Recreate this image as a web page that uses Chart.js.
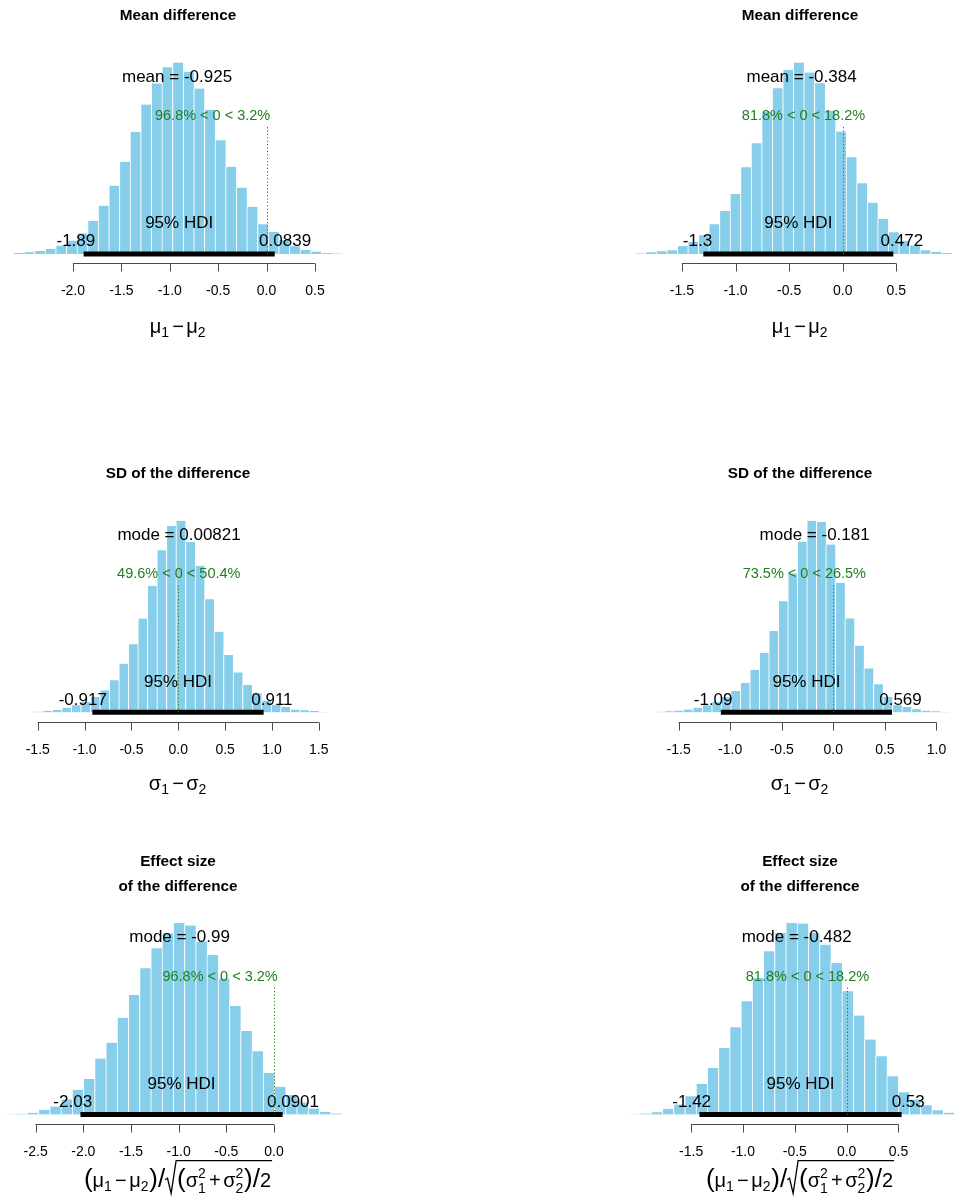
<!DOCTYPE html>
<html>
<head>
<meta charset="utf-8">
<title>Posterior distributions of the differences</title>
<script src="https://cdn.jsdelivr.net/npm/chart.js@4.4.0/dist/chart.umd.min.js"></script>
<style>
  html, body { margin: 0; padding: 0; background: #ffffff; }
  body { width: 954px; height: 1199px; overflow: hidden; position: relative; }
  canvas { position: absolute; display: block; }
</style>
</head>
<body>
<canvas id="p0"></canvas>
<canvas id="p1"></canvas>
<canvas id="p2"></canvas>
<canvas id="p3"></canvas>
<canvas id="p4"></canvas>
<canvas id="p5"></canvas>
<script>
// ---------- posterior histogram densities (one value per bin) ----------
const densMeanL = [0.005,0.008,0.014,0.023,0.039,0.061,0.094,0.150,0.220,0.311,0.420,0.556,0.680,0.776,0.850,0.871,0.829,0.753,0.655,0.518,0.397,0.302,0.215,0.136,0.100,0.064,0.036,0.018,0.011,0.005,0.002];
const densMeanR = [0.003,0.009,0.014,0.020,0.041,0.061,0.096,0.152,0.220,0.307,0.444,0.567,0.729,0.849,0.943,0.980,0.929,0.874,0.734,0.627,0.495,0.362,0.263,0.179,0.111,0.068,0.044,0.020,0.012,0.005];
const densSdL   = [0.004,0.008,0.014,0.026,0.042,0.061,0.091,0.130,0.190,0.289,0.405,0.557,0.751,0.963,1.107,1.137,1.012,0.870,0.672,0.478,0.340,0.237,0.162,0.113,0.069,0.045,0.032,0.016,0.012,0.008,0.002];
const densSdR   = [0.004,0.007,0.011,0.018,0.031,0.046,0.068,0.099,0.141,0.193,0.281,0.391,0.537,0.734,0.917,1.126,1.264,1.256,1.108,0.855,0.620,0.440,0.290,0.185,0.103,0.046,0.035,0.020,0.011,0.007,0.002];
const densEffL  = [0.001,0.003,0.007,0.019,0.032,0.060,0.098,0.141,0.222,0.284,0.383,0.473,0.579,0.658,0.718,0.758,0.748,0.685,0.632,0.539,0.430,0.331,0.251,0.164,0.110,0.077,0.048,0.024,0.011,0.004];
const densEffR  = [0.001,0.004,0.010,0.024,0.042,0.077,0.129,0.196,0.280,0.367,0.476,0.574,0.686,0.763,0.805,0.803,0.763,0.714,0.637,0.518,0.416,0.315,0.245,0.161,0.094,0.063,0.039,0.018,0.008,0.003];
const densities = [densMeanL, densMeanR, densSdL, densSdR, densEffL, densEffR];

// left edge of the first bin and bin width (HDI width / 18)
const binStart = [-2.617, -1.937, -1.549, -1.732, -2.824, -2.103];
const binWidth = [0.1097, 0.0984, 0.1016, 0.0922, 0.1178, 0.1083];

// summary statistics
const hdiLow       = [-1.89, -1.3, -0.917, -1.09, -2.03, -1.42];
const hdiHigh      = [0.0839, 0.472, 0.911, 0.569, 0.0901, 0.53];
const centralName  = ['mean', 'mean', 'mode', 'mode', 'mode', 'mode'];
const centralValue = [-0.925, -0.384, 0.00821, -0.181, -0.99, -0.482];
const compValue    = 0;
const pctBelow     = ['96.8', '81.8', '49.6', '73.5', '96.8', '81.8'];
const pctAbove     = ['3.2', '18.2', '50.4', '26.5', '3.2', '18.2'];

// titles and axis ticks
const titles = [
  ['Mean difference'], ['Mean difference'],
  ['SD of the difference'], ['SD of the difference'],
  ['Effect size', 'of the difference'], ['Effect size', 'of the difference']
];
const tickValues = [
  [-2.0, -1.5, -1.0, -0.5, 0.0, 0.5],
  [-1.5, -1.0, -0.5, 0.0, 0.5],
  [-1.5, -1.0, -0.5, 0.0, 0.5, 1.0, 1.5],
  [-1.5, -1.0, -0.5, 0.0, 0.5, 1.0],
  [-2.5, -2.0, -1.5, -1.0, -0.5, 0.0],
  [-1.5, -1.0, -0.5, 0.0, 0.5]
];
const tickLabels = [
  ['-2.0', '-1.5', '-1.0', '-0.5', '0.0', '0.5'],
  ['-1.5', '-1.0', '-0.5', '0.0', '0.5'],
  ['-1.5', '-1.0', '-0.5', '0.0', '0.5', '1.0', '1.5'],
  ['-1.5', '-1.0', '-0.5', '0.0', '0.5', '1.0'],
  ['-2.5', '-2.0', '-1.5', '-1.0', '-0.5', '0.0'],
  ['-1.5', '-1.0', '-0.5', '0.0', '0.5']
];

// x-axis labels as small math expressions
const labMu    = [{t:'μ'}, {sub:'1'}, {op:'−'}, {t:'μ'}, {sub:'2'}];
const labSigma = [{t:'σ'}, {sub:'1'}, {op:'−'}, {t:'σ'}, {sub:'2'}];
const labEff   = [
  {t:'(', big:true}, {t:'μ'}, {sub:'1'}, {op:'−'}, {t:'μ'}, {sub:'2'}, {t:')', big:true}, {t:'/', big:true},
  {sqrt:[{t:'(', big:true}, {t:'σ'}, {sub:'1', sup:'2'}, {op:'+'}, {t:'σ'}, {sub:'2', sup:'2'},
         {t:')', big:true}, {t:'/', big:true}, {t:'2'}]}
];
const xLabels = [labMu, labMu, labSigma, labSigma, labEff, labEff];

// ---------- layout ----------
const FONT = '"Liberation Sans", Arial, Helvetica, sans-serif';
const BAR_COLOR = '#87CEEB';
const GREEN = '#1f7f1f';
const rowTop = [0, 400, 800];
const rowHeight = [400, 400, 399];
const colLeft = [0, 477];
const colWidth = [477, 501];
const plotLeft = [0, 622];
const plotWidth = 356;
const plotTop = [54.9, 513.2, 915.4];
const plotBottom = [261.7, 720, 1122.2];
const tickLabelY = [290.7, 750.2, 1152.5];
const xlabBaseY = [333, 790, 1187.3];
const titleY = [[16], [474], [862, 887]];
const xLimits = [
  [-2.754, 0.924], [-2.059, 1.262],
  [-1.903, 1.897], [-2.049, 1.403],
  [-2.874, 0.860], [-2.167, 1.267]
];
const TXT = 17, GTXT = 14.5, TICK = 14, TITLE = 15.3, MATH = 20, BIGMATH = 26;
const STR_H = 15.1; // height unit used for the HDI text offsets

// ---------- tiny expression renderer ----------
function partWidth(ctx, p, size) {
  if (p.t !== undefined) {
    ctx.font = (p.big ? BIGMATH : size) + 'px ' + FONT;
    return ctx.measureText(p.t).width;
  }
  if (p.op !== undefined) {
    ctx.font = size + 'px ' + FONT;
    return ctx.measureText(p.op).width + size * 0.24;
  }
  if (p.sqrt) {
    return size * 0.6 + exprWidth(ctx, p.sqrt, size) + size * 0.05;
  }
  ctx.font = (size * 0.7) + 'px ' + FONT;
  const a = p.sub ? ctx.measureText(p.sub).width : 0;
  const b = p.sup ? ctx.measureText(p.sup).width : 0;
  return Math.max(a, b) + size * 0.04;
}
function exprWidth(ctx, parts, size) {
  return parts.reduce((w, p) => w + partWidth(ctx, p, size), 0);
}
function drawExpr(ctx, parts, x, y, size) {
  ctx.textAlign = 'left';
  ctx.textBaseline = 'alphabetic';
  for (const p of parts) {
    const w = partWidth(ctx, p, size);
    if (p.t !== undefined) {
      ctx.font = (p.big ? BIGMATH : size) + 'px ' + FONT;
      ctx.fillText(p.t, x, y);
    } else if (p.op !== undefined) {
      ctx.font = size + 'px ' + FONT;
      ctx.fillText(p.op, x + size * 0.12, y);
    } else if (p.sqrt) {
      const top = y - size * 1.33;
      ctx.save();
      ctx.lineWidth = 1.3;
      ctx.strokeStyle = '#000';
      ctx.beginPath();
      ctx.moveTo(x, y - size * 0.38);
      ctx.lineTo(x + size * 0.12, y - size * 0.45);
      ctx.lineTo(x + size * 0.3, y + size * 0.3);
      ctx.lineTo(x + size * 0.55, top);
      ctx.lineTo(x + w, top);
      ctx.stroke();
      ctx.restore();
      drawExpr(ctx, p.sqrt, x + size * 0.6, y, size);
    } else {
      ctx.font = (size * 0.7) + 'px ' + FONT;
      if (p.sub && p.sup) {
        ctx.fillText(p.sub, x, y + size * 0.28);
        ctx.fillText(p.sup, x, y - size * 0.45);
      } else if (p.sub) {
        ctx.fillText(p.sub, x, y + size * 0.2);
      } else if (p.sup) {
        ctx.fillText(p.sup, x, y - size * 0.45);
      }
    }
    x += w;
  }
}

// ---------- annotations drawn over each histogram ----------
function posteriorMarks(i) {
  const row = Math.floor(i / 2), col = i % 2;
  const oy = rowTop[row];
  return {
    id: 'posteriorMarks' + i,
    afterDatasetsDraw(chart) {
      const ctx = chart.ctx, xs = chart.scales.x, ys = chart.scales.y, area = chart.chartArea;
      const maxD = Math.max(...densities[i]);
      const y0 = ys.getPixelForValue(0);
      const cx = (area.left + area.right) / 2;
      ctx.save();

      // title
      ctx.fillStyle = '#000';
      ctx.font = 'bold ' + TITLE + 'px ' + FONT;
      ctx.textAlign = 'center';
      ctx.textBaseline = 'middle';
      titles[i].forEach((line, k) => ctx.fillText(line, cx, titleY[row][k] - oy));

      // central tendency
      ctx.font = TXT + 'px ' + FONT;
      ctx.textBaseline = 'alphabetic';
      ctx.fillText(centralName[i] + ' = ' + centralValue[i],
                   xs.getPixelForValue(centralValue[i]), ys.getPixelForValue(0.9 * maxD));

      // HDI text
      ctx.fillText('95% HDI', xs.getPixelForValue((hdiLow[i] + hdiHigh[i]) / 2), y0 - 1.7 * STR_H);
      ctx.textAlign = 'left';
      const lo = String(hdiLow[i]), hi = String(hdiHigh[i]);
      const wLo = ctx.measureText(lo).width, wHi = ctx.measureText(hi).width;
      ctx.fillText(lo, xs.getPixelForValue(hdiLow[i]) - 0.7 * wLo, y0 - 0.5 * STR_H);
      ctx.fillText(hi, xs.getPixelForValue(hdiHigh[i]) - 0.3 * wHi, y0 - 0.5 * STR_H);

      // HDI bar
      ctx.strokeStyle = '#000';
      ctx.lineWidth = 5;
      ctx.lineCap = 'butt';
      ctx.beginPath();
      ctx.moveTo(xs.getPixelForValue(hdiLow[i]), y0);
      ctx.lineTo(xs.getPixelForValue(hdiHigh[i]), y0);
      ctx.stroke();

      // comparison value
      const cvHt = 0.7 * maxD;
      const xc = xs.getPixelForValue(compValue);
      const cmp = pctBelow[i] + '% < ' + compValue + ' < ' + pctAbove[i] + '%';
      ctx.font = GTXT + 'px ' + FONT;
      ctx.fillStyle = GREEN;
      const wc = ctx.measureText(cmp).width;
      ctx.fillText(cmp, xc - (parseFloat(pctBelow[i]) / 100) * wc, ys.getPixelForValue(cvHt));
      ctx.strokeStyle = GREEN;
      ctx.lineWidth = 1;
      ctx.setLineDash([1.2, 2.2]);
      ctx.beginPath();
      ctx.moveTo(Math.round(xc) + 0.5, y0);
      ctx.lineTo(Math.round(xc) + 0.5, ys.getPixelForValue(0.96 * cvHt));
      ctx.stroke();
      ctx.setLineDash([]);

      // x axis
      const ay = Math.round(area.bottom + 1.5) + 0.5;
      const tv = tickValues[i];
      ctx.strokeStyle = '#4a4a4a';
      ctx.lineWidth = 1;
      ctx.beginPath();
      ctx.moveTo(xs.getPixelForValue(tv[0]), ay);
      ctx.lineTo(xs.getPixelForValue(tv[tv.length - 1]), ay);
      tv.forEach(v => {
        const px = Math.round(xs.getPixelForValue(v)) + 0.5;
        ctx.moveTo(px, ay);
        ctx.lineTo(px, ay + 8);
      });
      ctx.stroke();
      ctx.fillStyle = '#000';
      ctx.font = TICK + 'px ' + FONT;
      ctx.textAlign = 'center';
      ctx.textBaseline = 'middle';
      tv.forEach((v, k) => ctx.fillText(tickLabels[i][k], xs.getPixelForValue(v), tickLabelY[row] - oy));

      // x label
      const w = exprWidth(ctx, xLabels[i], MATH);
      ctx.fillStyle = '#000';
      drawExpr(ctx, xLabels[i], cx - w / 2, xlabBaseY[row] - oy, MATH);

      ctx.restore();
    }
  };
}

// ---------- build the six histograms ----------
for (let i = 0; i < 6; i++) {
  const row = Math.floor(i / 2), col = i % 2;
  const canvas = document.getElementById('p' + i);
  canvas.width = colWidth[col];
  canvas.height = rowHeight[row];
  canvas.style.left = colLeft[col] + 'px';
  canvas.style.top = rowTop[row] + 'px';
  canvas.style.width = colWidth[col] + 'px';
  canvas.style.height = rowHeight[row] + 'px';

  const dens = densities[i];
  const maxD = Math.max(...dens);
  const points = dens.map((d, k) => ({ x: binStart[i] + (k + 0.5) * binWidth[i], y: d }));

  new Chart(canvas, {
    type: 'bar',
    data: {
      datasets: [{
        data: points,
        backgroundColor: BAR_COLOR,
        borderColor: '#ffffff',
        borderWidth: { left: 1, right: 0, top: 0, bottom: 0 },
        borderSkipped: false,
        barPercentage: 1,
        categoryPercentage: 1
      }]
    },
    options: {
      responsive: false,
      animation: false,
      events: [],
      devicePixelRatio: 1,
      layout: {
        padding: {
          left: plotLeft[col] - colLeft[col],
          right: colLeft[col] + colWidth[col] - (plotLeft[col] + plotWidth),
          top: plotTop[row] - rowTop[row],
          bottom: rowTop[row] + rowHeight[row] - plotBottom[row]
        }
      },
      plugins: { legend: { display: false }, tooltip: { enabled: false }, title: { display: false } },
      scales: {
        x: { type: 'linear', min: xLimits[i][0], max: xLimits[i][1], display: false, offset: false },
        y: { min: -0.04 * maxD, max: 1.04 * maxD, display: false }
      }
    },
    plugins: [posteriorMarks(i)]
  });
}
</script>
</body>
</html>
